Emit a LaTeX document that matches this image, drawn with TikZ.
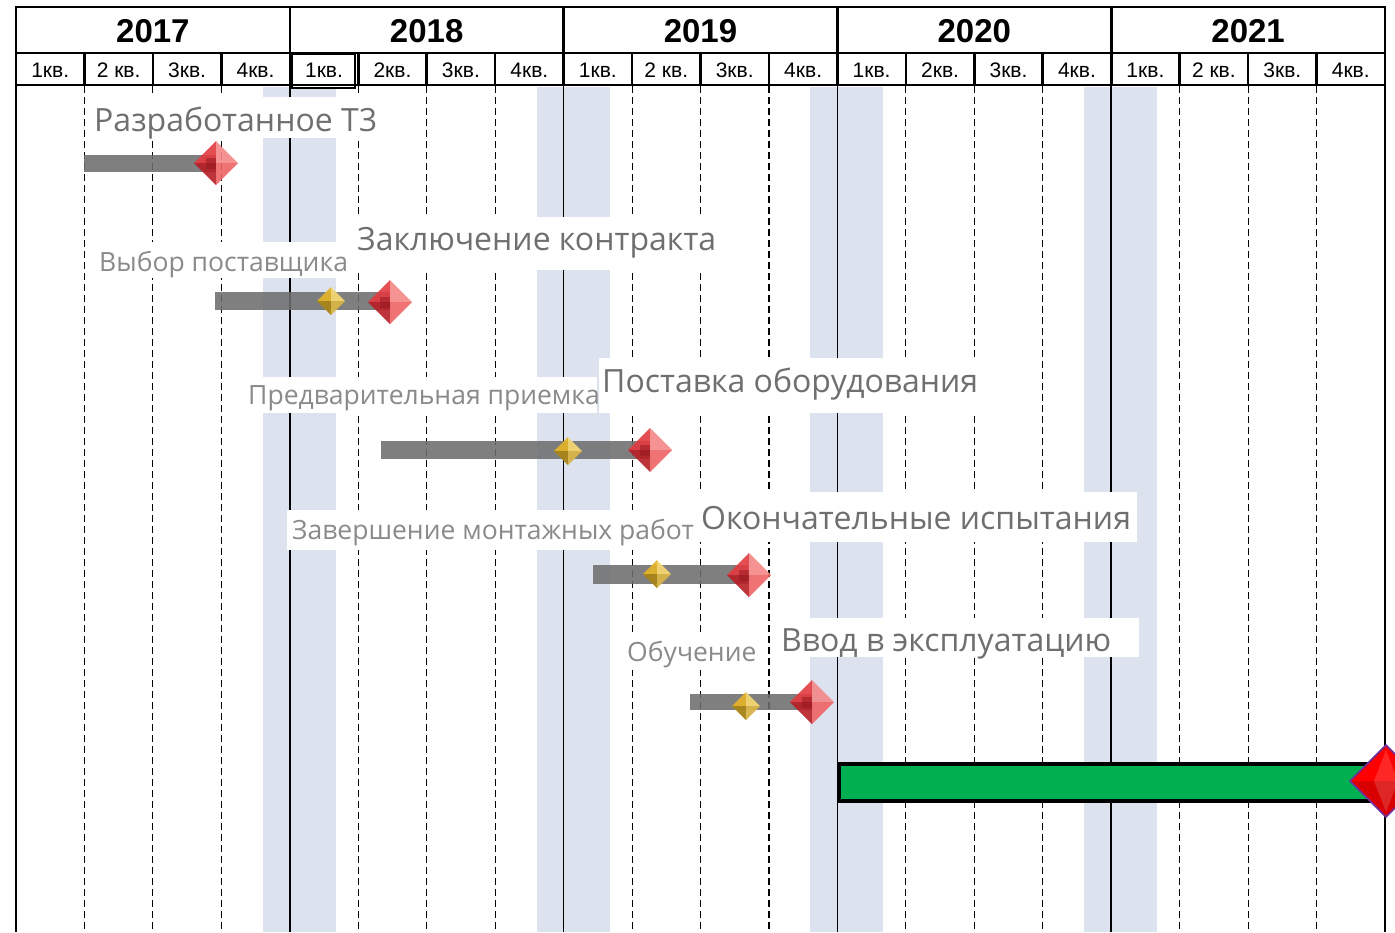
\documentclass[tikz,border=0pt]{standalone}
\usepackage{fontspec}
\setmainfont{Open Sans}
\newfontfamily\arialf{Liberation Sans}
\definecolor{shadecol}{HTML}{DDE3EE}
\definecolor{bigtxt}{HTML}{6F6F6F}
\definecolor{smalltxt}{HTML}{8A8A8A}
\definecolor{barcol}{HTML}{6E6E6E}
\definecolor{greenbar}{HTML}{00B050}
\definecolor{gemA}{HTML}{E23A3F}
\definecolor{gemB}{HTML}{F48888}
\definecolor{gemC}{HTML}{B81E26}
\definecolor{gemD}{HTML}{EE6464}
\definecolor{goldA}{HTML}{E2B22A}
\definecolor{goldB}{HTML}{F3D672}
\definecolor{goldC}{HTML}{A88418}
\definecolor{goldD}{HTML}{D8B449}
\definecolor{edgepurple}{HTML}{7030A0}
\newcommand\redgem[3]{%
  \begin{scope}[shift={(#1,#2)},opacity=0.9]
  \fill[gemA] (-#3,0) -- (0,-#3) -- (0,0) -- cycle;
  \fill[gemB] (0,-#3) -- (#3,0) -- (0,0) -- cycle;
  \fill[gemC] (-#3,0) -- (0,#3) -- (0,0) -- cycle;
  \fill[gemD] (0,#3) -- (#3,0) -- (0,0) -- cycle;
  \fill[gemC!80!black,opacity=0.5] (-0.45*#3,-0.25*#3) rectangle (0,0.25*#3);
  \end{scope}}
\newcommand\goldgem[3]{%
  \begin{scope}[shift={(#1,#2)},opacity=0.95]
  \fill[goldA] (-#3,0) -- (0,-#3) -- (0,0) -- cycle;
  \fill[goldB] (0,-#3) -- (#3,0) -- (0,0) -- cycle;
  \fill[goldC] (-#3,0) -- (0,#3) -- (0,0) -- cycle;
  \fill[goldD] (0,#3) -- (#3,0) -- (0,0) -- cycle;
  \end{scope}}
\begin{document}
\begin{tikzpicture}[x=1pt,y=-1pt,
  dashline/.style={line width=1.1pt,dash pattern=on 7pt off 4pt},
  solidline/.style={line width=1.6pt},
  hdr/.style={line width=2.6pt},
  bgbox/.style={fill=white,draw=none},
  biglabel/.style={text=bigtxt,font=\fontsize{32}{32}\selectfont,inner sep=0pt,anchor=west},
  smalllabel/.style={text=smalltxt,font=\fontsize{26.5}{26.5}\selectfont,inner sep=0pt,anchor=west},
  yearlabel/.style={font=\arialf\bfseries\fontsize{33}{33}\selectfont,inner sep=0pt},
  qlabel/.style={font=\arialf\fontsize{21}{21}\selectfont,inner sep=0pt},
  bar/.style={fill=barcol,opacity=0.88},
]
\useasboundingbox (0,0) rectangle (1395,932);
\fill[white] (0,0) rectangle (1395,932);
% shaded columns around year boundaries
\foreach \i in {4,8,12,16}
  \fill[shadecol] ({16+\i*68.45-27},87) rectangle ({16+\i*68.45+46},932);
% grid
\foreach \i in {1,2,3,5,6,7,9,10,11,13,14,15,17,18,19}
  \draw[dashline] ({16+\i*68.45},86) -- ({16+\i*68.45},932);
\foreach \i in {0,4,8,12,16,20}
  \draw[solidline] ({16+\i*68.45},86) -- ({16+\i*68.45},932);

% label backgrounds
\fill[bgbox] (89,97) rectangle (386,138);
\fill[bgbox] (352,217) rectangle (715,270);
\fill[bgbox] (93,242) rectangle (352,278);
\fill[bgbox] (240,377) rectangle (597,413);
\fill[bgbox] (599,358) rectangle (980,413);
\fill[bgbox] (287,510) rectangle (697,550);
\fill[bgbox] (697,492) rectangle (1137,542);
\fill[bgbox] (621,632) rectangle (765,670);
\fill[bgbox] (777,618) rectangle (1139,657);

% labels
\node[biglabel] (l1) at (94,123) {Разработанное Т3};
\node[biglabel] (l2) at (357,243) {Заключение контракта};
\node[smalllabel] (s2) at (99,265) {Выбор поставщика};
\node[biglabel] (l3) at (602,384) {Поставка оборудования};
\node[smalllabel] (s3) at (248,398) {Предварительная приемка};
\node[biglabel] (l4) at (701,518) {Окончательные испытания};
\node[smalllabel] (s4) at (292,533) {Завершение монтажных работ};
\node[biglabel] (l5) at (781,644) {Ввод в эксплуатацию};
\node[smalllabel] (s5) at (627,655) {Обучение};

% bars and gems
\fill[bar] (84,155) rectangle (216,172);
\redgem{216}{163}{22}
\fill[bar] (215,292) rectangle (390,310);
\goldgem{331}{301}{14}
\redgem{390}{302}{22}
\fill[bar] (381,441) rectangle (650,459);
\goldgem{568}{451}{14}
\redgem{650}{450}{22}
\fill[bar] (593,565) rectangle (748,584);
\goldgem{657}{574}{14}
\redgem{749}{575}{22}
\fill[bar] (690,694) rectangle (812,710);
\goldgem{746}{706}{14}
\redgem{812}{702}{22}

% final green bar
\node[draw=black,line width=4pt,fill=greenbar,minimum width=560pt,minimum height=37pt,inner sep=0pt,anchor=north west] (green) at (837,762) {};
\fill[red!85!black,draw=edgepurple,line width=1.5pt] (1386,745) -- (1422,781) -- (1386,817) -- (1350,781) -- cycle;
\fill[red] (1386,747) -- (1420,781) -- (1386,781) -- (1352,781) -- cycle;
\fill[white,opacity=0.15] (1386,750) -- (1398,781) -- (1386,812) -- (1374,781) -- cycle;

% header
\fill[white] (16,7) rectangle (1385,85);
\foreach \i in {1,2,3,5,6,7,9,10,11,13,14,15,17,18,19}
  \draw[hdr] ({16+\i*68.45},53) -- ({16+\i*68.45},85);
\foreach \i in {4,8,12,16}
  \draw[hdr] ({16+\i*68.45},7) -- ({16+\i*68.45},85);
\draw[hdr] (16,53) -- (1385,53);
\draw[hdr] (16,7) rectangle (1385,85);
\draw[line width=2pt] (292,54) rectangle (355,88);
\foreach \y [count=\k from 0] in {2017,2018,2019,2020,2021}
  \node[yearlabel] (y\y) at ({16+\k*273.8+136.9},31) {\y};
\foreach \t [count=\k from 0] in {1кв.,2 кв.,3кв.,4кв.,1кв.,2кв.,3кв.,4кв.,1кв.,2 кв.,3кв.,4кв.,1кв.,2кв.,3кв.,4кв.,1кв.,2 кв.,3кв.,4кв.}
  \node[qlabel] (q\k) at ({16+\k*68.45+34.2},70) {\t};
\end{tikzpicture}
\end{document}
